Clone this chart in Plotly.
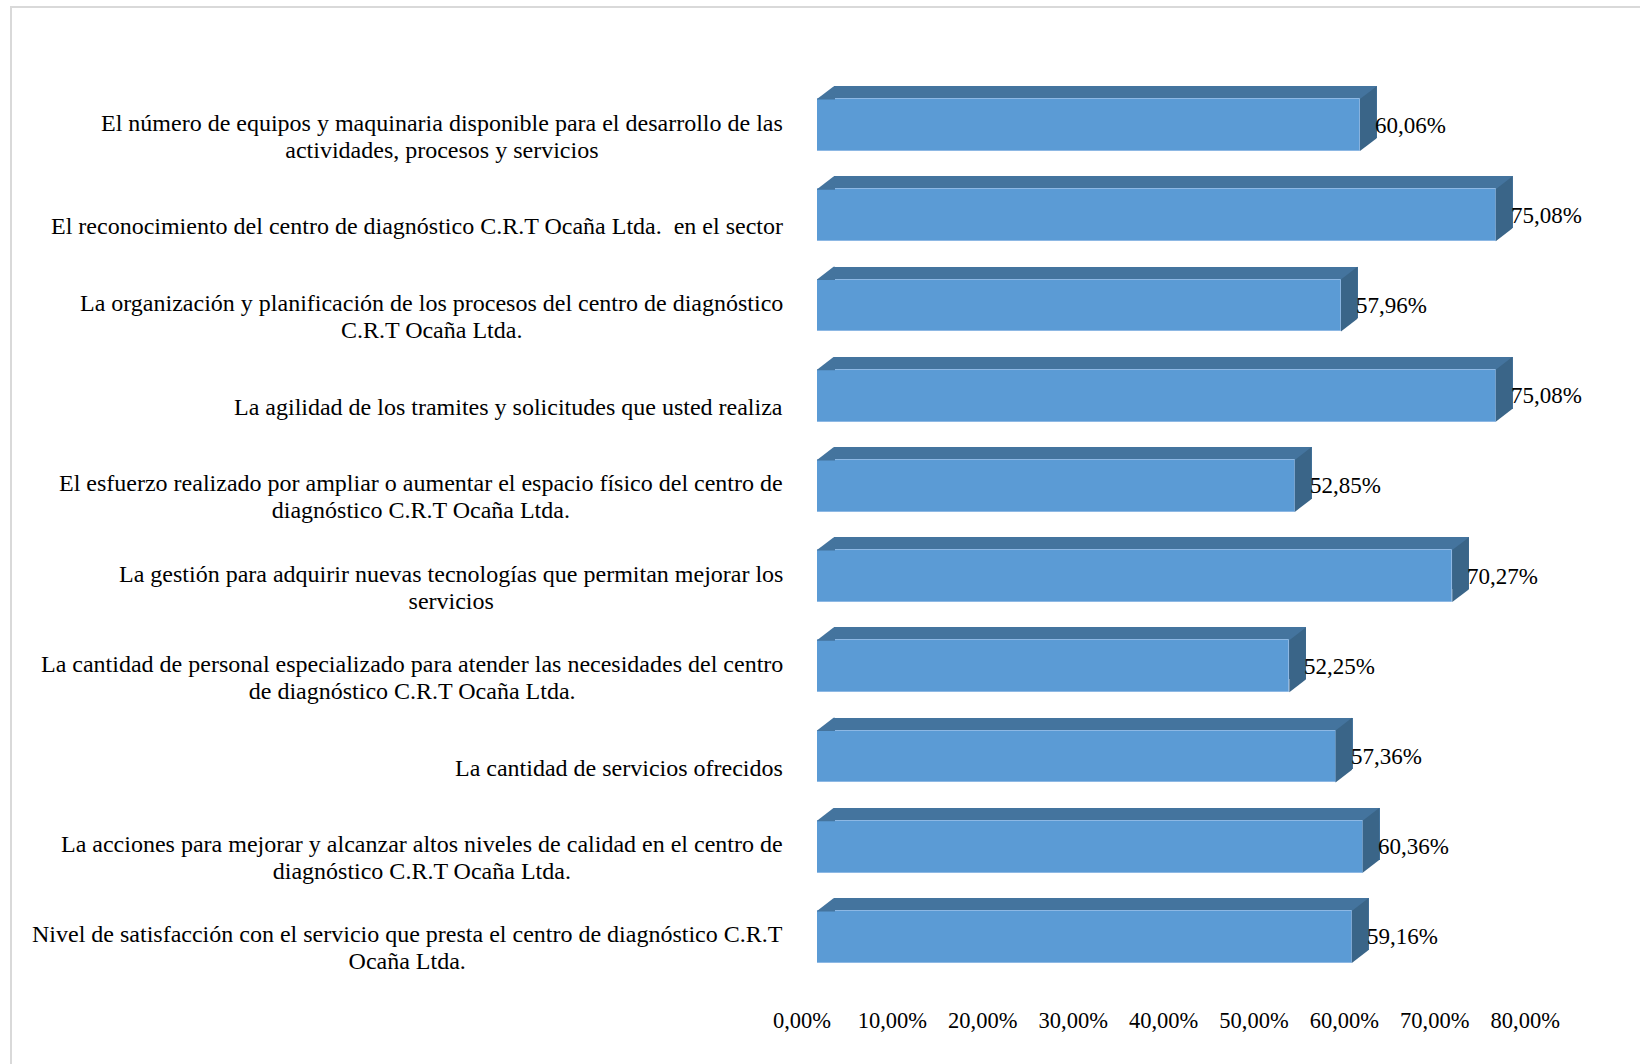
import plotly.graph_objects as go

categories = [
    "El número de equipos y maquinaria disponible para el desarrollo de las<br>actividades, procesos y servicios",
    "El reconocimiento del centro de diagnóstico C.R.T Ocaña Ltda.  en el sector",
    "La organización y planificación de los procesos del centro de diagnóstico<br>C.R.T Ocaña Ltda.",
    "La agilidad de los tramites y solicitudes que usted realiza",
    "El esfuerzo realizado por ampliar o aumentar el espacio físico del centro de<br>diagnóstico C.R.T Ocaña Ltda.",
    "La gestión para adquirir nuevas tecnologías que permitan mejorar los<br>servicios",
    "La cantidad de personal especializado para atender las necesidades del centro<br>de diagnóstico C.R.T Ocaña Ltda.",
    "La cantidad de servicios ofrecidos",
    "La acciones para mejorar y alcanzar altos niveles de calidad en el centro de<br>diagnóstico C.R.T Ocaña Ltda.",
    "Nivel de satisfacción con el servicio que presta el centro de diagnóstico C.R.T<br>Ocaña Ltda.",
]
values = [60.06, 75.08, 57.96, 75.08, 52.85, 70.27, 52.25, 57.36, 60.36, 59.16]
tick_values = [0, 10, 20, 30, 40, 50, 60, 70, 80]
tick_labels = ["0,00%", "10,00%", "20,00%", "30,00%", "40,00%", "50,00%", "60,00%", "70,00%", "80,00%"]

W, H = 1640, 1064
FONT = "Liberation Serif"
FS_TICK = 22.5
FS_VAL = 23
FS_CAT = 24
FRONT = "#5B9BD5"
TOP = "#44749E"
SIDE = "#3A6588"
DX, DY = 16.5, 12.7   # 3D depth in px
BAR_W = 0.576
HALF = 26  # half bar height in px

# front plot area in pixels
fx0, fx1 = 817, 817 + 80 * 9.04
fy_top, fy_bot = 80, 982

def px_x(p):
    return p / W

def px_y(p):
    return 1 - p / H

n = len(categories)
yrange = [n - 0.5, -0.5]

fig = go.Figure()

# back (depth) bars
fig.add_trace(go.Bar(
    x=values, y=categories, orientation="h", width=BAR_W,
    marker=dict(color=TOP, line=dict(width=0)),
    xaxis="x", yaxis="y", hoverinfo="skip", showlegend=False,
))
# front faces
fig.add_trace(go.Bar(
    x=values, y=categories, orientation="h", width=BAR_W,
    marker=dict(color=FRONT, line=dict(width=1, color="#8DB8E4")),
    xaxis="x2", yaxis="y2", showlegend=False,
))

shapes = []
for i, v in enumerate(values):
    # top-left corner of top face
    shapes.append(dict(
        type="path", xref="x2", yref="y2", xsizemode="pixel", ysizemode="pixel",
        xanchor=0, yanchor=i,
        path=f"M0,{HALF} L{DX},{HALF+DY} L{DX+1.5},{HALF+DY} L{DX+1.5},{HALF-0.5} L0,{HALF-0.5} Z",
        fillcolor=TOP, line=dict(width=0), layer="above",
    ))
    # side face
    shapes.append(dict(
        type="path", xref="x2", yref="y2", xsizemode="pixel", ysizemode="pixel",
        xanchor=v, yanchor=i,
        path=f"M0,{HALF} L{DX},{HALF+DY} L{DX},{-HALF+DY} L0,{-HALF} Z",
        fillcolor=SIDE, line=dict(width=0), layer="above",
    ))

# outer border (left and top)
shapes.append(dict(type="rect", xref="paper", yref="paper",
                   x0=11 / W, x1=1.02, y0=-0.02, y1=1 - 7 / H,
                   line=dict(color="#D9D9D9", width=2), fillcolor="rgba(0,0,0,0)", layer="below"))

annotations = []
for i, (c, v) in enumerate(zip(categories, values)):
    annotations.append(dict(
        x=785 / W, xref="paper", y=c, yref="y2", xanchor="right", yanchor="middle",
        text=f'<span style="font-size:{FS_CAT}px">{c}</span>', align="center",
        showarrow=False, yshift=-11,
        font=dict(family=FONT, size=20.6, color="black"),
    ))
    annotations.append(dict(
        x=v, xref="x2", y=c, yref="y2", xanchor="left", yanchor="middle",
        text=f"{v:.2f}".replace(".", ",") + "%", showarrow=False, xshift=13,
        font=dict(family=FONT, size=FS_VAL, color="black"),
    ))

fig.update_layout(
    width=W, height=H, autosize=False,
    margin=dict(l=0, r=0, t=0, b=0, pad=0, autoexpand=False),
    paper_bgcolor="white", plot_bgcolor="rgba(0,0,0,0)",
    font=dict(family=FONT, size=FS_TICK, color="black"),
    bargap=0,
    xaxis=dict(domain=[px_x(fx0 + DX), px_x(fx1 + DX)], range=[0, 80], anchor="y",
               showgrid=False, zeroline=False, showline=False, showticklabels=False, ticks="",
               automargin=False),
    yaxis=dict(domain=[px_y(fy_bot - DY), px_y(fy_top - DY)], range=yrange, anchor="x",
               type="category", categoryarray=categories, categoryorder="array",
               showgrid=False, zeroline=False, showline=False, showticklabels=False, ticks="",
               automargin=False),
    xaxis2=dict(domain=[px_x(fx0), px_x(fx1)], range=[0, 80], anchor="y2",
                showgrid=False, zeroline=False, showline=False, ticks="",
                tickmode="array", tickvals=tick_values, ticktext=tick_labels,
                ticklabelshift=-15, ticklabelstandoff=22, automargin=False,
                tickfont=dict(family=FONT, size=FS_TICK, color="black")),
    yaxis2=dict(domain=[px_y(fy_bot), px_y(fy_top)], range=yrange, anchor="x2",
                type="category", categoryarray=categories, categoryorder="array",
                showgrid=False, zeroline=False, showline=False, showticklabels=False, ticks="",
                automargin=False),
    shapes=shapes,
    annotations=annotations,
)

fig.write_html("out.html")
